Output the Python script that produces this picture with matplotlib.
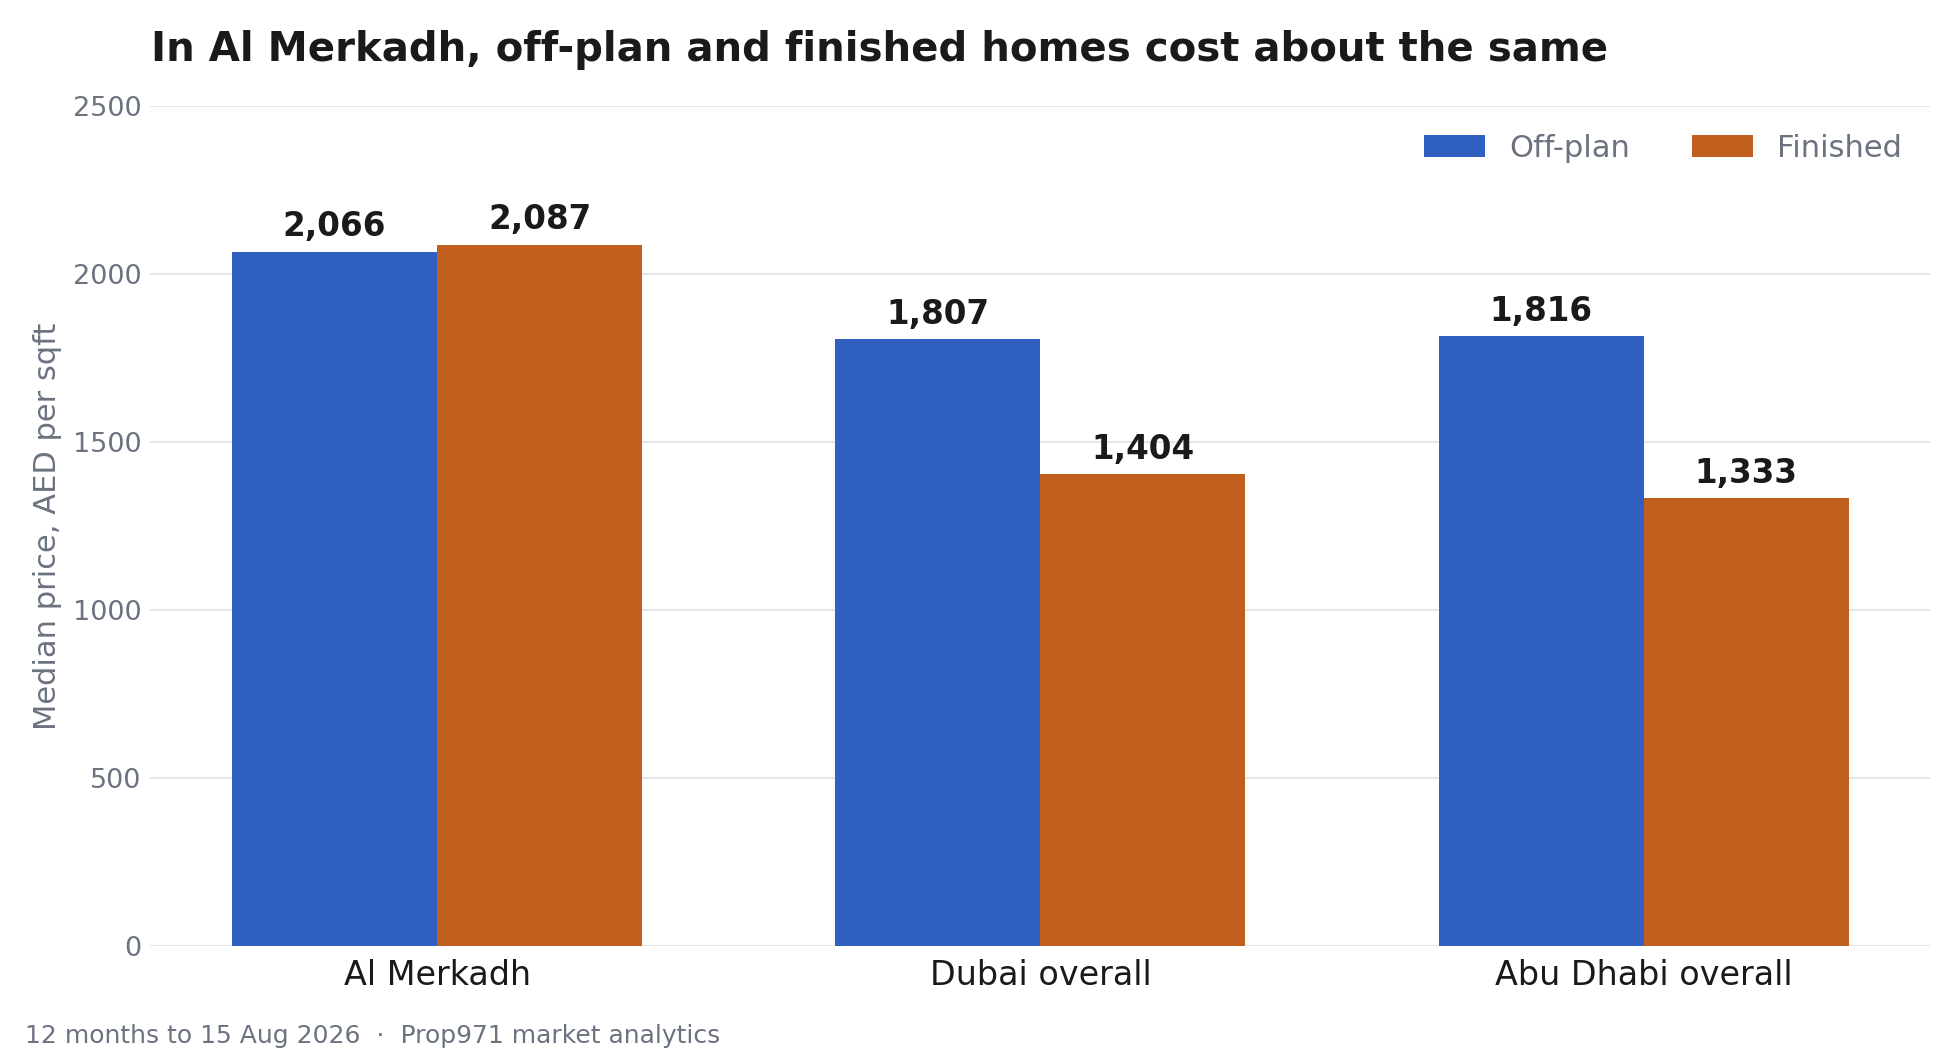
import numpy as np
import matplotlib.pyplot as plt

categories = ["Al Merkadh", "Dubai overall", "Abu Dhabi overall"]
off_plan = [2066, 1807, 1816]
finished = [2087, 1404, 1333]
series_names = ["Off-plan", "Finished"]

BLUE = "#3060c0"
ORANGE = "#c1601e"
GREY = "#6b7280"
DARK = "#1a1a1a"

fig = plt.figure(figsize=(19.6, 10.6), dpi=100)
ax = fig.add_axes([0.0765, 0.1075, 0.908, 0.7925])

x = np.arange(len(categories))
w = 0.34
b1 = ax.bar(x - w / 2, off_plan, w, color=BLUE, label=series_names[0], zorder=2)
b2 = ax.bar(x + w / 2, finished, w, color=ORANGE, label=series_names[1], zorder=2)

for bars, vals in ((b1, off_plan), (b2, finished)):
    for rect, v in zip(bars, vals):
        ax.annotate(f"{v:,}", (rect.get_x() + rect.get_width() / 2, v),
                    xytext=(0, 6), textcoords="offset points",
                    ha="center", va="bottom", fontsize=23.5,
                    fontweight="bold", color=DARK)

ax.set_xlim(-0.476, 2.474)
ax.set_ylim(0, 2500)
ax.set_yticks([0, 500, 1000, 1500, 2000, 2500])
ax.set_xticks(x)
ax.set_xticklabels(categories)
ax.tick_params(axis="x", length=0, pad=9, labelsize=24, labelcolor=DARK)
ax.tick_params(axis="y", length=0, pad=6, labelsize=19.5, labelcolor=GREY)
ax.grid(axis="y", color="#e5e7eb", linewidth=1.5, zorder=0)
for s in ax.spines.values():
    s.set_visible(False)

ax.set_ylabel("Median price, AED per sqft", fontsize=22, color=GREY, labelpad=8)

ax.legend(loc="upper right", ncol=2, frameon=False, fontsize=22,
          labelcolor=GREY, handlelength=2.0, handleheight=0.7,
          columnspacing=2.0, bbox_to_anchor=(1.0, 1.0))

fig.text(0.077, 0.953, "In Al Merkadh, off-plan and finished homes cost about the same",
         fontsize=29, fontweight="bold", color=DARK, va="center", ha="left")
fig.text(0.0128, 0.0226, "12 months to 15 Aug 2026  \u00b7  Prop971 market analytics",
         fontsize=18, color=GREY, va="center", ha="left")

fig.savefig("out.png", dpi=100)
